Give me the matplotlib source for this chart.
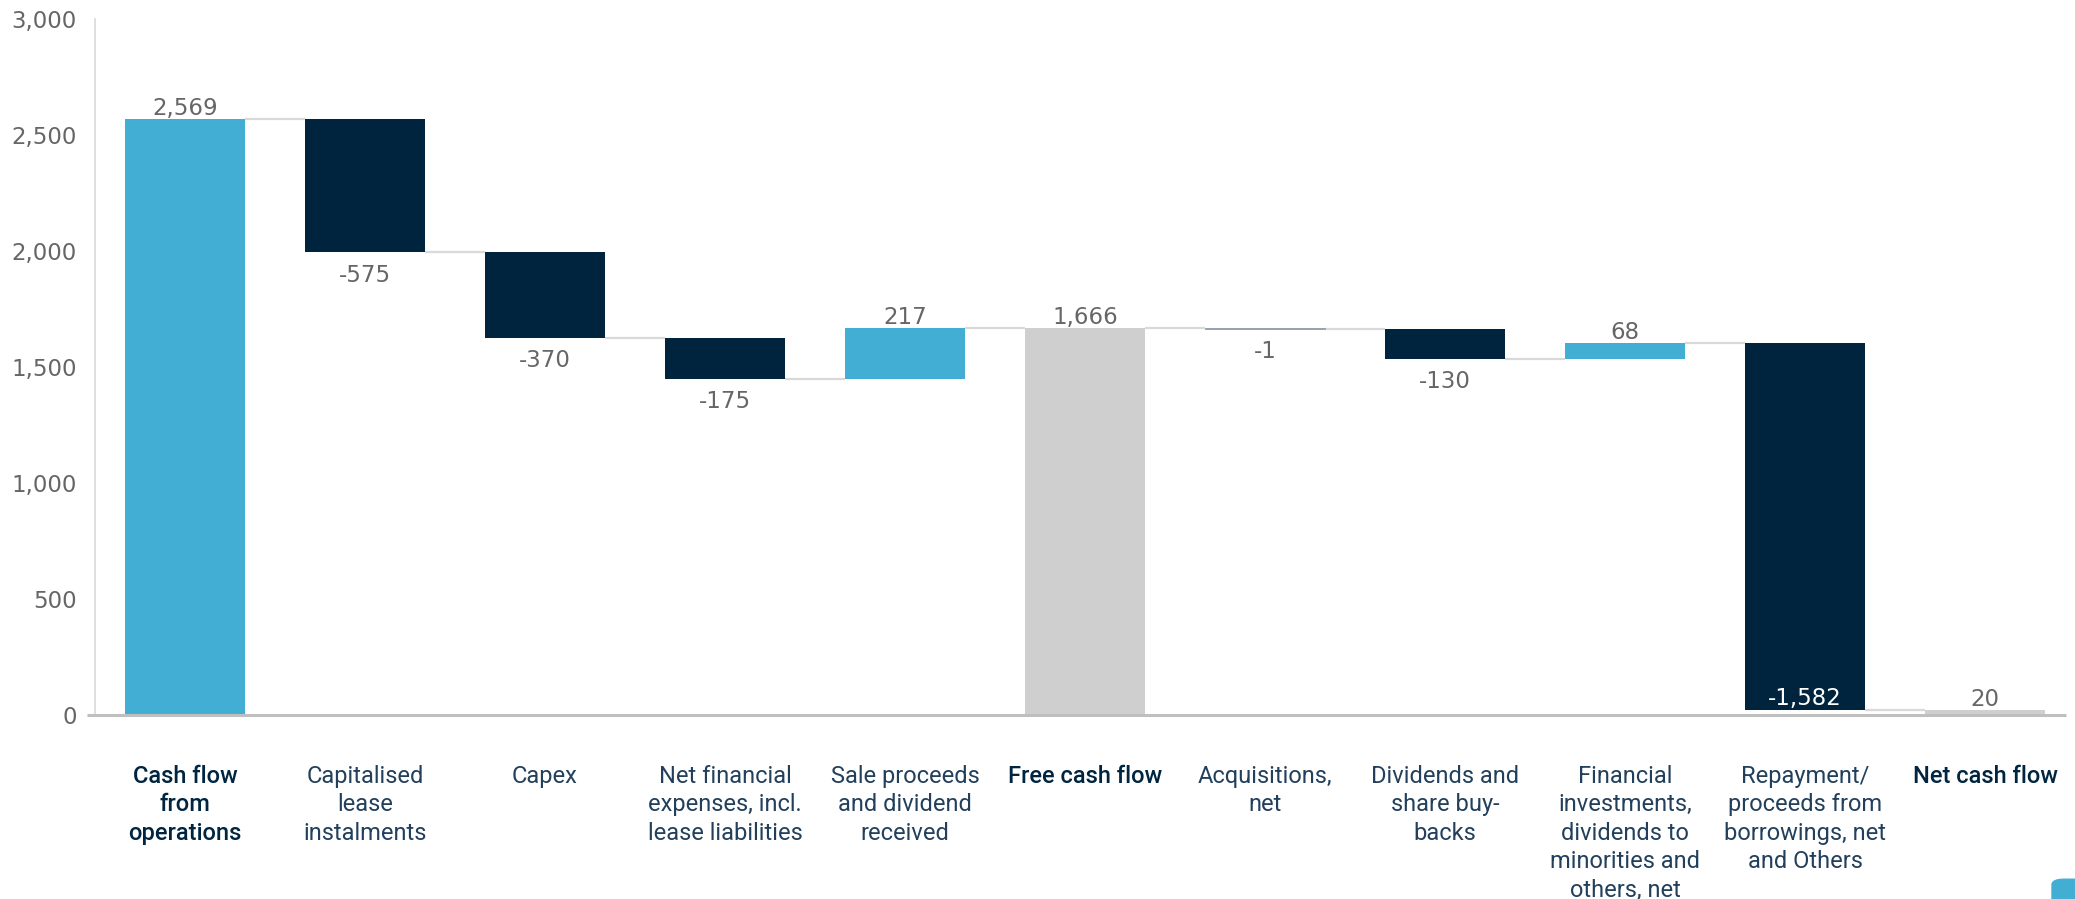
import matplotlib
matplotlib.use('Agg')
import matplotlib.pyplot as plt
from matplotlib.patches import FancyBboxPatch
import numpy as np

# Chart data
categories = [
    'Cash flow\nfrom\noperations',
    'Capitalised\nlease\ninstalments',
    'Capex',
    'Net financial\nexpenses, incl.\nlease liabilities',
    'Sale proceeds\nand dividend\nreceived',
    'Free cash flow',
    'Acquisitions,\nnet',
    'Dividends and\nshare buy-\nbacks',
    'Financial\ninvestments,\ndividends to\nminorities and\nothers, net',
    'Repayment/\nproceeds from\nborrowings, net\nand Others',
    'Net cash flow',
]
values = [2569, -575, -370, -175, 217, 1666, -1, -130, 68, -1582, 20]
is_total = [True, False, False, False, False, True, False, False, False, False, True]
value_labels = ['2,569', '-575', '-370', '-175', '217', '1,666', '-1', '-130', '68', '-1,582', '20']
y_ticks = [0, 500, 1000, 1500, 2000, 2500, 3000]

# Colours
LIGHT_BLUE = '#42AED4'
NAVY = '#00243D'
GREY = '#CFCFCF'
CONNECTOR = '#D9D9D9'
VALUE_TXT = '#666666'
CAT_TXT = '#22405C'
CAT_TXT_BOLD = '#002540'


def waterfall_geometry(values, is_total):
    bottoms, heights, colors, ends = [], [], [], []
    running = 0
    for v, tot in zip(values, is_total):
        if tot:
            bottoms.append(0)
            heights.append(v)
            colors.append(LIGHT_BLUE if v == values[0] else GREY)
            running = v
        else:
            start = running
            running = running + v
            bottoms.append(min(start, running))
            heights.append(abs(v))
            colors.append(LIGHT_BLUE if v > 0 else NAVY)
        ends.append(running)
    return bottoms, heights, colors, ends


def main():
    fig = plt.figure(figsize=(20.75, 8.99), dpi=100)
    ax = fig.add_axes([95 / 2075, 184 / 899, (2066 - 95) / 2075, 696 / 899])

    bottoms, heights, colors, ends = waterfall_geometry(values, is_total)
    x = np.arange(len(values))
    width = 2 / 3

    # thin edge so that the tiny -1 bar still shows as a line
    ax.bar(x, heights, bottom=bottoms, width=width, color=colors,
           edgecolor=[c if c != NAVY else '#9AA8B4' for c in colors],
           linewidth=[0.6 if h < 5 else 0 for h in heights], zorder=2)

    # connectors between bars
    for i in range(len(values) - 1):
        ax.plot([x[i] + width / 2, x[i + 1] - width / 2], [ends[i], ends[i]],
                color=CONNECTOR, lw=1.6, zorder=1, solid_capstyle='butt')

    # value labels
    for i, (v, lab) in enumerate(zip(values, value_labels)):
        top = bottoms[i] + heights[i]
        if v >= 0:
            ax.annotate(lab, (x[i], top), xytext=(0, 3), textcoords='offset points',
                        ha='center', va='baseline', fontsize=16.5, color=VALUE_TXT,
                        family='DejaVu Sans')
        elif bottoms[i] < 200:
            ax.annotate(lab, (x[i], bottoms[i]), xytext=(0, 4), textcoords='offset points',
                        ha='center', va='baseline', fontsize=16.5, color='white',
                        family='DejaVu Sans')
        else:
            ax.annotate(lab, (x[i], bottoms[i]), xytext=(0, -8), textcoords='offset points',
                        ha='center', va='top', fontsize=16.5, color=VALUE_TXT,
                        family='DejaVu Sans')

    ax.set_xlim(-0.5, 10.45)
    ax.set_ylim(0, 3000)
    ax.set_yticks(y_ticks)
    ax.set_yticklabels([f'{t:,}' for t in y_ticks], fontsize=16.5, color=VALUE_TXT,
                       family='DejaVu Sans')
    ax.tick_params(axis='y', length=0, pad=13)

    ax.set_xticks(x)
    ax.set_xticklabels(categories, fontsize=17, family='Roboto', linespacing=1.3)
    ax.tick_params(axis='x', length=0, pad=36)
    for lbl, tot in zip(ax.get_xticklabels(), is_total):
        lbl.set_color(CAT_TXT_BOLD if tot else CAT_TXT)
        if tot:
            lbl.set_fontweight('medium')

    for side in ['top', 'right', 'bottom']:
        ax.spines[side].set_visible(False)
    ax.spines['left'].set_color(CONNECTOR)
    ax.spines['left'].set_linewidth(1.2)
    ax.spines['left'].set_bounds(0, 3000)
    ax.plot([-0.004, 1], [0, 0], transform=ax.transAxes, color='#BFBFBF', lw=2.2,
            clip_on=False, zorder=3, solid_capstyle='butt')

    # small page widget in the corner
    fig.patches.append(FancyBboxPatch((2052 / 2075, -0.02), 0.03, 0.042,
                                      boxstyle='round,pad=0,rounding_size=0.006',
                                      transform=fig.transFigure, color=LIGHT_BLUE))

    fig.savefig('out.png', dpi=100)


if __name__ == '__main__':
    main()
